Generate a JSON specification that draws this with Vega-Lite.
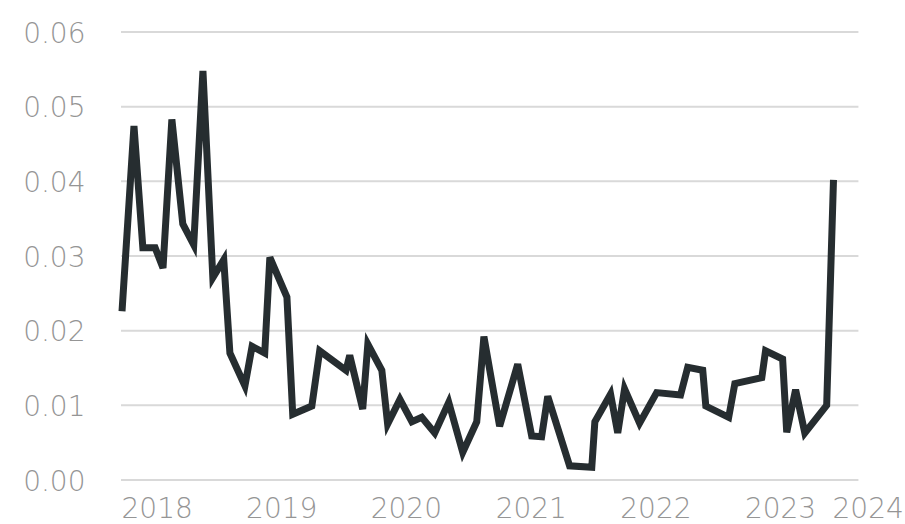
{
  "$schema": "https://vega.github.io/schema/vega-lite/v6.json",
  "autosize": "none",
  "padding": {"left": 121, "top": 32, "right": 36, "bottom": 44},
  "width": 748,
  "height": 448,
  "background": "white",
  "config": {
    "view": {"stroke": null},
    "axis": {
      "labelFont": "DejaVu Sans",
      "labelFontWeight": 200,
      "labelFontSize": 28,
      "labelColor": "#959595",
      "domain": false,
      "ticks": false,
      "tickSize": 0,
      "grid": false,
      "title": null
    }
  },
  "datasets": {
    "series": [
      {"date": "2018-01-04", "value": 0.0226},
      {"date": "2018-02-08", "value": 0.0474},
      {"date": "2018-03-06", "value": 0.0311},
      {"date": "2018-04-11", "value": 0.0311},
      {"date": "2018-05-04", "value": 0.0284},
      {"date": "2018-05-30", "value": 0.0483},
      {"date": "2018-07-01", "value": 0.0343},
      {"date": "2018-08-02", "value": 0.0315},
      {"date": "2018-08-29", "value": 0.0548},
      {"date": "2018-09-27", "value": 0.0271},
      {"date": "2018-10-29", "value": 0.0295},
      {"date": "2018-11-16", "value": 0.0170},
      {"date": "2018-12-30", "value": 0.0126},
      {"date": "2019-01-20", "value": 0.0179},
      {"date": "2019-02-26", "value": 0.0170},
      {"date": "2019-03-13", "value": 0.0298},
      {"date": "2019-05-02", "value": 0.0245},
      {"date": "2019-05-19", "value": 0.0088},
      {"date": "2019-07-14", "value": 0.0099},
      {"date": "2019-08-06", "value": 0.0173},
      {"date": "2019-10-22", "value": 0.0147},
      {"date": "2019-11-02", "value": 0.0167},
      {"date": "2019-12-10", "value": 0.0095},
      {"date": "2019-12-25", "value": 0.0182},
      {"date": "2020-02-04", "value": 0.0147},
      {"date": "2020-02-21", "value": 0.0075},
      {"date": "2020-03-28", "value": 0.0108},
      {"date": "2020-05-02", "value": 0.0078},
      {"date": "2020-05-31", "value": 0.0084},
      {"date": "2020-07-08", "value": 0.0063},
      {"date": "2020-08-18", "value": 0.0104},
      {"date": "2020-09-28", "value": 0.0037},
      {"date": "2020-11-08", "value": 0.0078},
      {"date": "2020-11-29", "value": 0.0192},
      {"date": "2021-01-14", "value": 0.0072},
      {"date": "2021-03-08", "value": 0.0155},
      {"date": "2021-04-18", "value": 0.0059},
      {"date": "2021-05-17", "value": 0.0058},
      {"date": "2021-06-04", "value": 0.0112},
      {"date": "2021-08-07", "value": 0.0019},
      {"date": "2021-10-11", "value": 0.0017},
      {"date": "2021-10-20", "value": 0.0078},
      {"date": "2021-12-05", "value": 0.0115},
      {"date": "2021-12-26", "value": 0.0063},
      {"date": "2022-01-15", "value": 0.0122},
      {"date": "2022-02-28", "value": 0.0076},
      {"date": "2022-04-19", "value": 0.0117},
      {"date": "2022-06-28", "value": 0.0114},
      {"date": "2022-07-19", "value": 0.0151},
      {"date": "2022-09-01", "value": 0.0147},
      {"date": "2022-09-10", "value": 0.0099},
      {"date": "2022-11-16", "value": 0.0084},
      {"date": "2022-12-04", "value": 0.0129},
      {"date": "2023-02-21", "value": 0.0137},
      {"date": "2023-03-04", "value": 0.0173},
      {"date": "2023-04-23", "value": 0.0162},
      {"date": "2023-05-05", "value": 0.0064},
      {"date": "2023-05-31", "value": 0.0121},
      {"date": "2023-06-27", "value": 0.0063},
      {"date": "2023-08-30", "value": 0.0100},
      {"date": "2023-09-19", "value": 0.0402}
    ],
    "grid": [
      {"g": 0}, {"g": 0.01}, {"g": 0.02}, {"g": 0.03}, {"g": 0.04}, {"g": 0.05}, {"g": 0.06}
    ]
  },
  "layer": [
    {
      "data": {"name": "grid"},
      "mark": {"type": "rule", "color": "#d9d9d9", "strokeWidth": 2},
      "encoding": {
        "y": {"field": "g", "type": "quantitative", "scale": {"domain": [0, 0.06]}},
        "x": {"datum": {"year": 2018, "month": 1, "date": 1}, "type": "temporal"},
        "x2": {"datum": {"year": 2023, "month": 12, "date": 1}}
      }
    },
    {
      "data": {"name": "series"},
      "mark": {"type": "line", "color": "#262d30", "strokeWidth": 7, "strokeJoin": "miter", "strokeCap": "butt"},
      "encoding": {
        "x": {
          "field": "date",
          "type": "temporal",
          "scale": {"domain": [{"year": 2018, "month": 1, "date": 1}, {"year": 2024, "month": 1, "date": 1}]},
          "axis": {
            "values": [
              {"year": 2018, "month": 1, "date": 1},
              {"year": 2019, "month": 1, "date": 1},
              {"year": 2020, "month": 1, "date": 1},
              {"year": 2021, "month": 1, "date": 1},
              {"year": 2022, "month": 1, "date": 1},
              {"year": 2023, "month": 1, "date": 1},
              {"year": 2024, "month": 1, "date": 1}
            ],
            "format": "%Y",
            "labelAlign": "left",
            "labelBaseline": "top",
            "labelPadding": 15,
            "labelOverlap": false,
            "labelBound": false,
            "labelFlush": false,
            "labelOffset": {"expr": "year(datum.value) >= 2024 ? -37 : 0"}
          }
        },
        "y": {
          "field": "value",
          "type": "quantitative",
          "scale": {"domain": [0, 0.06]},
          "axis": {
            "values": [0, 0.01, 0.02, 0.03, 0.04, 0.05, 0.06],
            "format": ".2f",
            "labelAlign": "right",
            "labelPadding": 36,
            "labelOffset": 2
          }
        }
      }
    }
  ]
}
